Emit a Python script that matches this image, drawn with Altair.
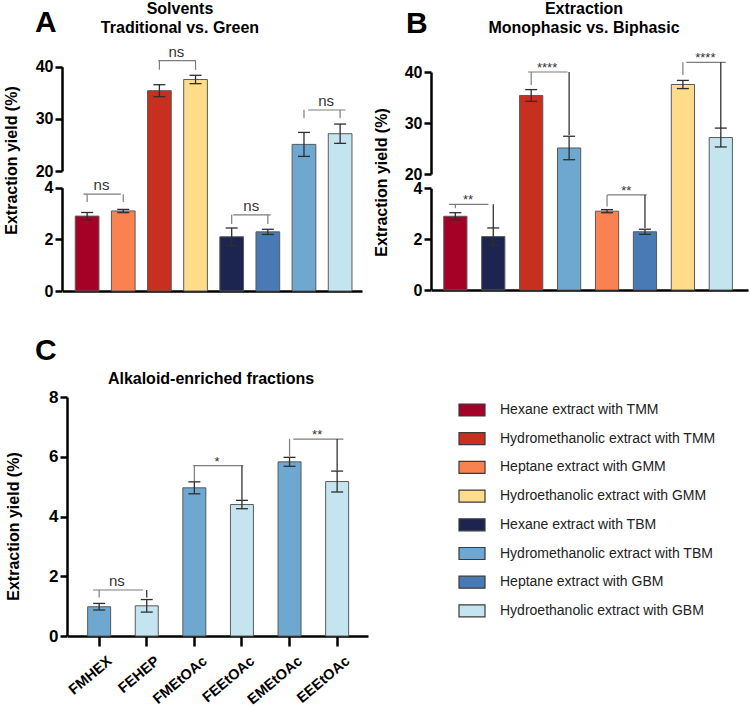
import altair as alt
import pandas as pd

FONT = "Liberation Sans"

# Crude extracts (legend order), their fill colours and mean ± SD yields (%)
EXTRACTS = [
    "Hexane extract with TMM",
    "Hydromethanolic extract with TMM",
    "Heptane extract with GMM",
    "Hydroethanolic extract with GMM",
    "Hexane extract with TBM",
    "Hydromethanolic extract with TBM",
    "Heptane extract with GBM",
    "Hydroethanolic extract with GBM",
]
EXTRACT_COLORS = ["#A50026", "#C7301F", "#F98250", "#FEDC8A",
                  "#1B2550", "#6EA7D0", "#4A7AB6", "#C4E5F0"]
EXTRACT_MEAN = [2.90, 35.4, 3.10, 37.55, 2.10, 25.1, 2.29, 27.15]
EXTRACT_SD = [0.14, 1.15, 0.06, 0.80, 0.34, 2.30, 0.10, 1.85]

# Bar order of panel A (solvent comparison) and panel B (extraction comparison)
ORDER_A = [0, 2, 1, 3, 4, 6, 5, 7]
ORDER_B = [0, 4, 1, 5, 2, 6, 3, 7]

# Significance brackets: compared bar positions, bracket height, leg ends, label
SIG_AB_PAIRS = [(0, 1), (2, 3), (4, 5), (6, 7)]
SIG_A_TOP = [3.75, 41.15, 2.95, 31.7]
SIG_A_LEFT_END = [3.45, 39.4, 2.59, 30.1]
SIG_A_RIGHT_END = [3.45, 39.4, 2.59, 30.1]
SIG_A_TEXT = ["ns", "ns", "ns", "ns"]

SIG_B_TOP = [3.37, 40.0, 3.74, 41.9]
SIG_B_LEFT_END = [3.22, 37.45, 3.28, 39.4]
SIG_B_RIGHT_END = [2.44, 27.65, 2.44, 29.0]
SIG_B_TEXT = ["**", "****", "**", "****"]

# Alkaloid-enriched fractions (panel C)
FRACTIONS = ["FMHEX", "FEHEP", "FMEtOAc", "FEEtOAc", "EMEtOAc", "EEEtOAc"]
FRACTION_SOURCE = [5, 7, 5, 7, 5, 7]  # extract whose colour each fraction uses
FRACTION_MEAN = [0.98, 1.01, 4.96, 4.40, 5.83, 5.17]
FRACTION_SD = [0.11, 0.21, 0.20, 0.14, 0.15, 0.35]
SIG_C_PAIRS = [(0, 1), (2, 3), (4, 5)]
SIG_C_TOP = [1.54, 5.70, 6.59]
SIG_C_LEFT_END = [1.29, 5.19, 6.01]
SIG_C_RIGHT_END = [1.29, 4.56, 5.54]
SIG_C_TEXT = ["ns", "*", "**"]

# Axis ticks
LOWER_TICKS = [0, 2, 4]
UPPER_TICKS = [20, 30, 40]
C_TICKS = [0, 2, 4, 6, 8]

TITLE_A = ["Solvents", "Traditional vs. Green"]
TITLE_B = ["Extraction", "Monophasic vs. Biphasic"]
TITLE_C = "Alkaloid-enriched fractions"
Y_TITLE = "Extraction yield (%)"

W, H = 750, 707
ERR = "#2e2e2e"
BRACKET = "#7d7d7d"

# Panel geometry (pixel ranges of each panel's scales)
LAY_A = dict(x_range=[62.5, 362], inner=0.344, outer=0.315, align=0.56,
             y_domain=[0, 4, 20, 40], y_range=[291, 187.7, 171, 66.7],
             axis_x=62, base_y=291, step=36.1, right_ink=BRACKET,
             title_x=-46, title_y=160)
LAY_B = dict(x_range=[431.5, 748], inner=0.388, outer=0.367, align=0.44,
             y_domain=[0, 4, 20, 40], y_range=[290, 188.3, 174, 72],
             axis_x=431, base_y=290, step=38.1, right_ink="#222222",
             title_x=-45, title_y=182)
LAY_C = dict(x_range=[67.5, 368], inner=0.517, outer=0.415, align=0.51,
             y_domain=[0, 8], y_range=[636, 397],
             axis_x=67, base_y=636, step=47.6, right_ink="#222222",
             title_x=-49, title_y=526)

LEGEND = alt.Legend(
    orient="none", legendX=458, legendY=396, title=None,
    symbolType="M-1,-0.46L1,-0.46L1,0.46L-1,0.46Z", symbolSize=676,
    symbolStrokeColor="#3a3a3a", symbolStrokeWidth=1.2, symbolOpacity=1,
    labelFont=FONT, labelFontSize=14, labelColor="#222222", labelLimit=320,
    labelOffset=14, rowPadding=5.7, padding=0,
)
COLOR = alt.Color("group:N", scale=alt.Scale(domain=EXTRACTS, range=EXTRACT_COLORS),
                  legend=LEGEND)


def axis_style(**kw):
    base = dict(domainColor="black", domainWidth=2.5, tickColor="black", tickWidth=2.5,
                tickSize=7, labelFont=FONT, labelFontSize=16, labelFontWeight="bold",
                labelColor="black", labelPadding=2, grid=False)
    base.update(kw)
    return base


def y_title(lay):
    return dict(title=Y_TITLE, titleFont=FONT, titleFontSize=16, titleFontWeight="bold",
                titleColor="black", titleAngle=270, titleAlign="center",
                titleBaseline="alphabetic", titleX=lay["title_x"], titleY=lay["title_y"])


def panel(labels, groups, means, sds, lay, pairs, tops, left_ends, right_ends, texts,
          x_axis, y_axis):
    df = pd.DataFrame({"label": labels, "group": groups, "mean": means, "sd": sds})
    df["lo"] = df["mean"] - df["sd"]
    df["hi"] = df["mean"] + df["sd"]

    xs = alt.Scale(domain=labels, range=lay["x_range"], paddingInner=lay["inner"],
                   paddingOuter=lay["outer"], align=lay["align"])
    ys = alt.Scale(domain=lay["y_domain"], range=lay["y_range"], nice=False, zero=False)

    def X(axis=None):
        return alt.X("label:N", scale=xs, axis=axis, title=None)

    def Y(field, axis=None):
        return alt.Y(field, scale=ys, axis=axis, title=None)

    bars = alt.Chart(df).mark_bar(stroke="#5a5a5a", strokeWidth=1).encode(
        x=X(x_axis), y=Y("mean:Q", y_axis), y2=alt.datum(0), color=COLOR)
    whisk = alt.Chart(df).mark_rule(color=ERR, strokeWidth=1.3).encode(
        x=X(), y=Y("lo:Q"), y2="hi:Q")
    caps = alt.Chart(df).transform_fold(["lo", "hi"], as_=["end", "v"]).mark_tick(
        color=ERR, thickness=1.3, size=12, opacity=1, orient="horizontal"
    ).encode(x=X(), y=Y("v:Q"))

    line_rows, leg_rows, text_rows = [], [], []
    for k, (i, j) in enumerate(pairs):
        line_rows += [{"id": k, "label": labels[i], "y": tops[k]},
                      {"id": k, "label": labels[j], "y": tops[k]}]
        leg_rows += [{"label": labels[i], "top": tops[k], "end": left_ends[k], "ink": BRACKET},
                     {"label": labels[j], "top": tops[k], "end": right_ends[k],
                      "ink": lay["right_ink"]}]
        text_rows.append({"label": labels[i], "y": tops[k], "sig": texts[k]})

    span = alt.Chart(pd.DataFrame(line_rows)).mark_line(
        color=BRACKET, strokeWidth=1.2).encode(x=X(), y=Y("y:Q"), detail="id:N")
    legs = alt.Chart(pd.DataFrame(leg_rows)).mark_rule(strokeWidth=1.2).encode(
        x=X(), y=Y("top:Q"), y2="end:Q", stroke=alt.Stroke("ink:N", scale=None))
    tdf = pd.DataFrame(text_rows)
    ns_text = alt.Chart(tdf).transform_filter("datum.sig == 'ns'").mark_text(
        font=FONT, fontSize=15, color="#333333", align="center", baseline="alphabetic",
        dx=lay["step"] / 2, dy=-4).encode(x=X(), y=Y("y:Q"), text="sig:N")
    star_text = alt.Chart(tdf).transform_filter("datum.sig != 'ns'").mark_text(
        font=FONT, fontSize=13, color="#333333", align="center", baseline="alphabetic",
        dx=lay["step"] / 2, dy=0).encode(x=X(), y=Y("y:Q"), text="sig:N")
    return [bars, whisk, caps, span, legs, ns_text, star_text]


def broken_axis(lay):
    """Two separate left axes (0-4 and 20-40) give the broken y axis of panels A/B."""
    lo_scale = alt.Scale(domain=[0, 4], range=[lay["y_range"][0], lay["y_range"][1]],
                         nice=False, zero=False)
    hi_scale = alt.Scale(domain=[20, 40], range=[lay["y_range"][2], lay["y_range"][3]],
                         nice=False, zero=False)
    lower = alt.Chart(pd.DataFrame({"tick": LOWER_TICKS})).mark_point(opacity=0).encode(
        y=alt.Y("tick:Q", scale=lo_scale,
                axis=alt.Axis(orient="left", offset=-lay["axis_x"], values=LOWER_TICKS,
                              format="d", title=None, **axis_style())))
    upper = alt.Chart(pd.DataFrame({"tick": UPPER_TICKS})).mark_point(opacity=0).encode(
        y=alt.Y("tick:Q", scale=hi_scale,
                axis=alt.Axis(orient="left", offset=-lay["axis_x"], values=UPPER_TICKS,
                              format="d", **axis_style(**y_title(lay)))))
    return [lower, upper]


def base_axis(lay):
    return alt.Axis(orient="bottom", offset=lay["base_y"] - H, domainColor="black",
                    domainWidth=2.5, ticks=False, labels=False, title=None, grid=False)


def text_leaf(text, x, y, size, align="center", lh=None):
    kw = dict(text=text, font=FONT, fontSize=size, fontWeight="bold", color="black",
              align=align, baseline="alphabetic")
    if lh:
        kw["lineHeight"] = lh
    return alt.Chart(pd.DataFrame({"k": [0]})).mark_text(**kw).encode(
        x=alt.value(x), y=alt.value(y))


labels_a = [EXTRACTS[i] for i in ORDER_A]
labels_b = [EXTRACTS[i] for i in ORDER_B]

leaves = []
leaves += panel(labels_a, labels_a, [EXTRACT_MEAN[i] for i in ORDER_A],
                [EXTRACT_SD[i] for i in ORDER_A], LAY_A, SIG_AB_PAIRS, SIG_A_TOP,
                SIG_A_LEFT_END, SIG_A_RIGHT_END, SIG_A_TEXT, base_axis(LAY_A), None)
leaves += broken_axis(LAY_A)

leaves += panel(labels_b, labels_b, [EXTRACT_MEAN[i] for i in ORDER_B],
                [EXTRACT_SD[i] for i in ORDER_B], LAY_B, SIG_AB_PAIRS, SIG_B_TOP,
                SIG_B_LEFT_END, SIG_B_RIGHT_END, SIG_B_TEXT, base_axis(LAY_B), None)
leaves += broken_axis(LAY_B)

c_x_axis = alt.Axis(orient="bottom", offset=LAY_C["base_y"] - H, title=None,
                    **axis_style(tickSize=10, labelFontSize=14.5, labelAngle=320,
                                 labelAlign="right", labelBaseline="middle",
                                 labelPadding=13, labelOffset=11))
c_y_axis = alt.Axis(orient="left", offset=-LAY_C["axis_x"], values=C_TICKS, format="d",
                    **axis_style(labelFontSize=17, **y_title(LAY_C)))
leaves += panel(FRACTIONS, [EXTRACTS[i] for i in FRACTION_SOURCE], FRACTION_MEAN,
                FRACTION_SD, LAY_C, SIG_C_PAIRS, SIG_C_TOP, SIG_C_LEFT_END,
                SIG_C_RIGHT_END, SIG_C_TEXT, c_x_axis, c_y_axis)

# Panel letters and titles
leaves += [
    text_leaf("A", 35, 32, 30, align="left"),
    text_leaf("B", 406, 33, 30, align="left"),
    text_leaf("C", 35, 360, 30, align="left"),
    text_leaf(TITLE_A, 180, 13.5, 16, lh=19.7),
    text_leaf(TITLE_B, 584, 13.5, 16, lh=19.7),
    text_leaf(TITLE_C, 211, 384, 16),
]

chart = alt.layer(*leaves).resolve_scale(
    x="independent", y="independent"
).properties(
    width=W, height=H, autosize=alt.AutoSizeParams(type="none"), padding=0,
    background="white",
).configure_view(stroke=None)

chart.save("out.html", embed_options={"renderer": "svg", "actions": False})
